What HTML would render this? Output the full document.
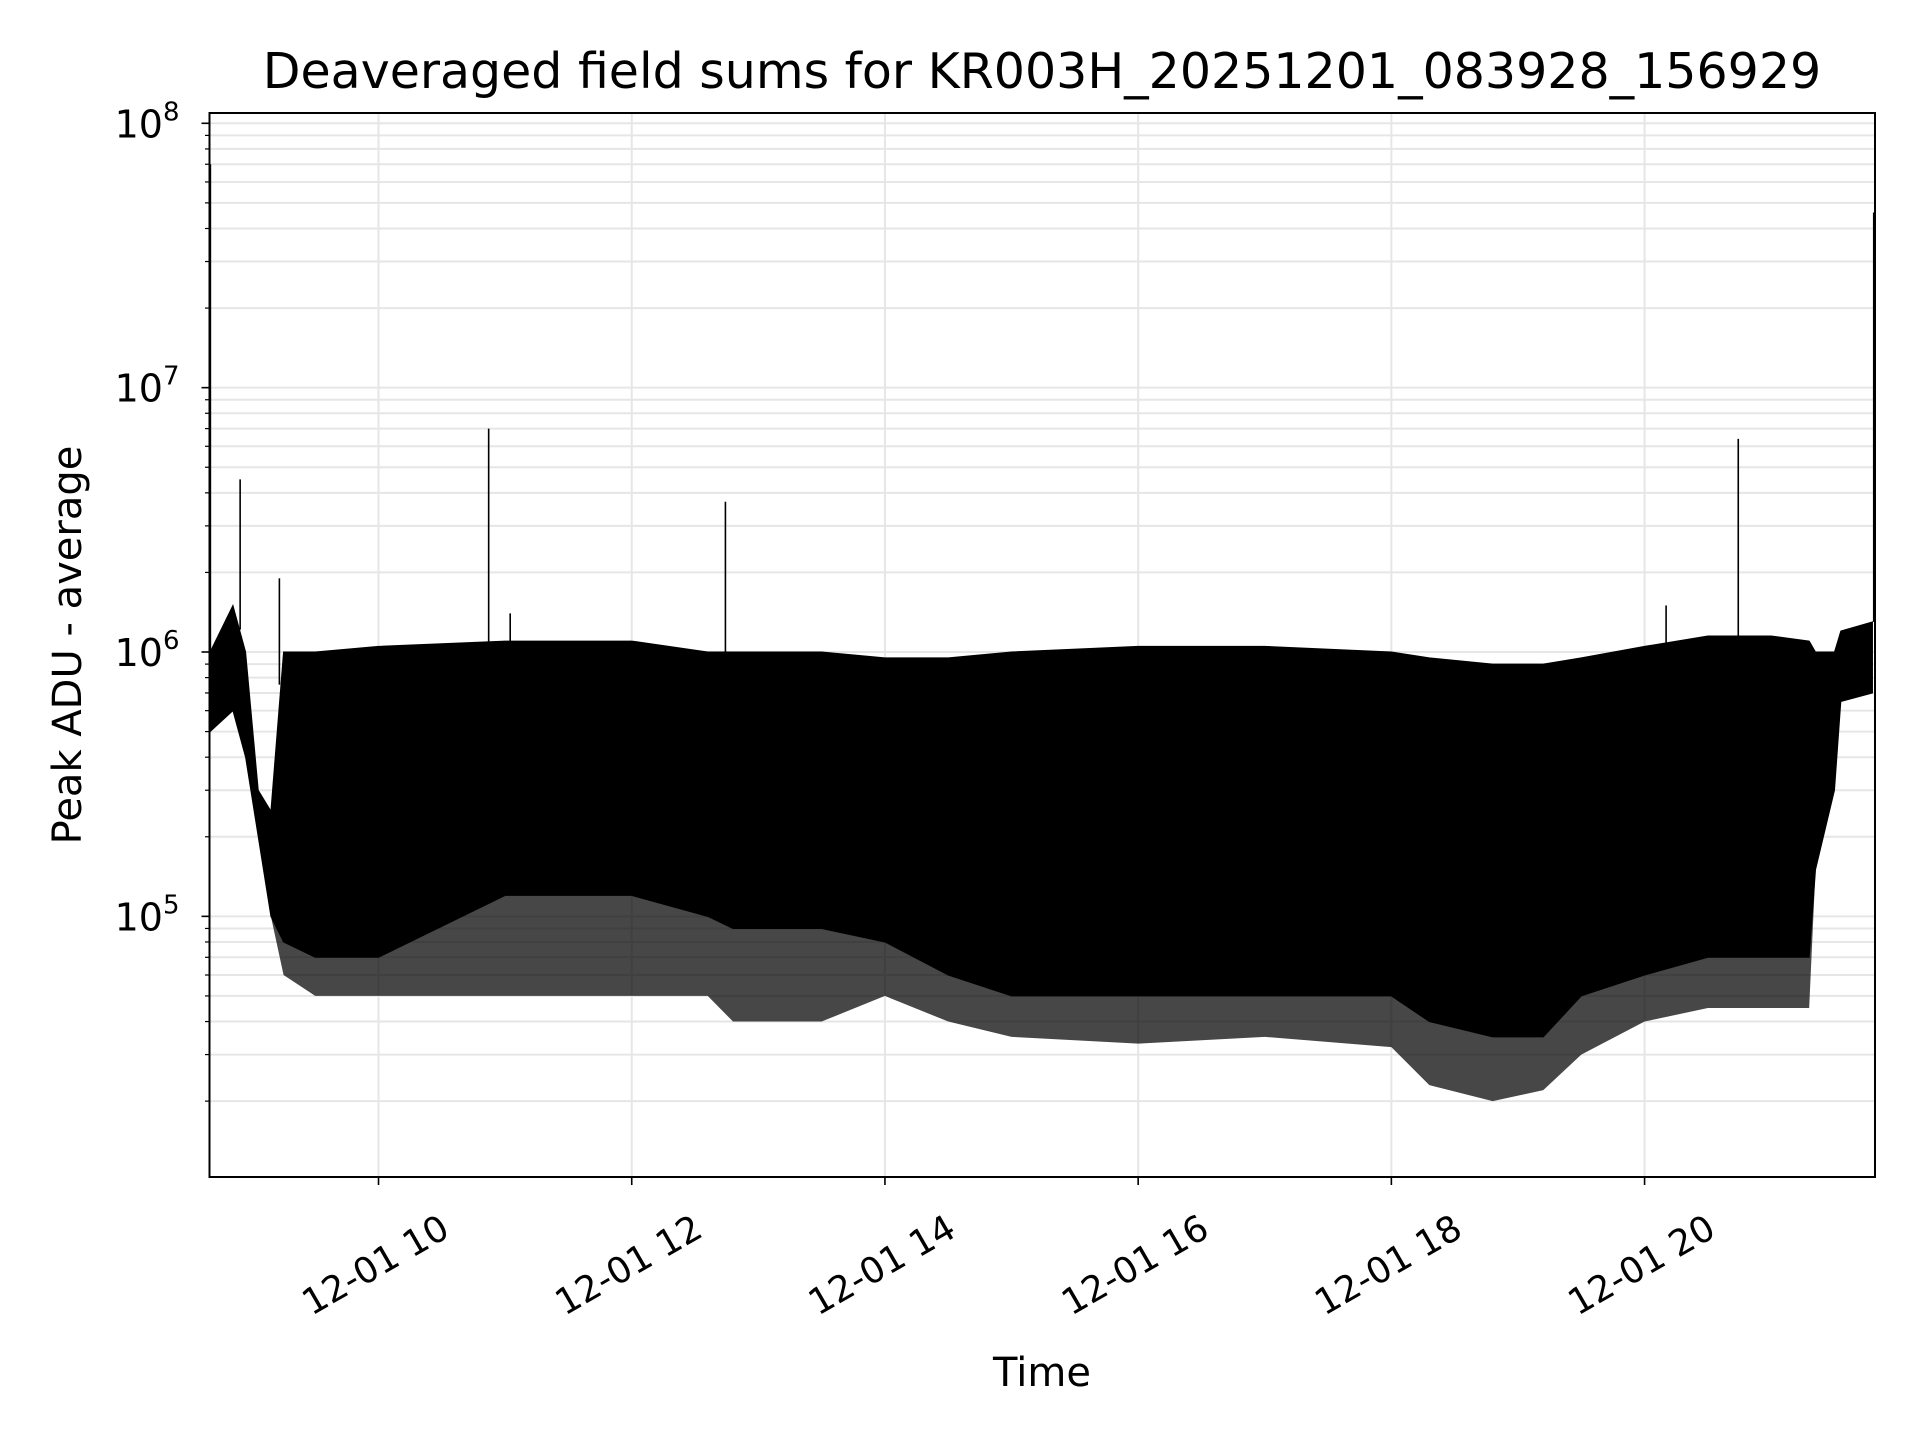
<!DOCTYPE html>
<html><head><meta charset="utf-8"><style>
html,body{margin:0;padding:0;background:#fff}
svg{display:block;font-family:"DejaVu Sans","Liberation Sans",sans-serif}
</style></head><body>
<svg id="chart" width="1920" height="1440" viewBox="0 0 1920 1440" xmlns="http://www.w3.org/2000/svg">
<rect width="1920" height="1440" fill="#fff"/>
<text x="1042" y="88" font-size="49" text-anchor="middle" fill="#000">Deaveraged field sums for KR003H_20251201_083928_156929</text>
<g id="grid"></g>
<g id="series"></g>
<g id="axes"></g>
<text transform="translate(81,645) rotate(-90)" font-size="40" text-anchor="middle" fill="#000">Peak ADU - average</text>
<text x="1042" y="1386" font-size="40" text-anchor="middle" fill="#000">Time</text>
</svg>
<script>
const hourTicks=[10,12,14,16,18,20];
const hourLabels=["12-01 10","12-01 12","12-01 14","12-01 16","12-01 18","12-01 20"];
const decadeTicks=[5,6,7,8];
const envTimes=[8.67,8.85,8.95,9.05,9.15,9.25,9.5,10.0,11.0,12.0,12.6,12.8,13.5,14.0,14.5,15.0,16.0,17.0,18.0,18.3,18.8,19.2,19.5,20.0,20.5,21.0,21.3,21.35,21.5,21.55,21.8];
const envHigh=[1.0e6,1.5e6,1.0e6,3e5,2.5e5,1.0e6,1.0e6,1.05e6,1.1e6,1.1e6,1.0e6,1.0e6,1.0e6,9.5e5,9.5e5,1.0e6,1.05e6,1.05e6,1.0e6,9.5e5,9.0e5,9.0e5,9.5e5,1.05e6,1.15e6,1.15e6,1.1e6,1.0e6,1.0e6,1.2e6,1.3e6];
const envCore=[5e5,6e5,4e5,2e5,1e5,8e4,7e4,7e4,1.2e5,1.2e5,1e5,9e4,9e4,8e4,6e4,5e4,5e4,5e4,5e4,4e4,3.5e4,3.5e4,5e4,6e4,7e4,7e4,7e4,1.5e5,3e5,6.5e5,7e5];
const envLow=[5e5,6e5,4e5,2e5,1e5,6e4,5e4,5e4,5e4,5e4,5e4,4e4,4e4,5e4,4e4,3.5e4,3.3e4,3.5e4,3.2e4,2.3e4,2.0e4,2.2e4,3e4,4e4,4.5e4,4.5e4,4.5e4,1.5e5,3e5,6.5e5,7e5];
const spikeTimes=[8.672,8.907,9.217,10.87,11.04,12.74,20.17,20.74,21.81];
const spikeVals=[7e7,4.5e6,1.9e6,7e6,1.4e6,3.7e6,1.5e6,6.4e6,4.6e7];

const L=209.5,R=1875,T=113,B=1177;
const x0h=8.665,x1h=21.82,yMinLog=4.014,yMaxLog=8.039;
const X=h=>L+(h-x0h)/(x1h-x0h)*(R-L);
const Y=v=>B-(Math.log10(v)-yMinLog)/(yMaxLog-yMinLog)*(B-T);
const NS="http://www.w3.org/2000/svg";
function mk(tag,attrs,parent){const e=document.createElementNS(NS,tag);for(const k in attrs)e.setAttribute(k,attrs[k]);parent.appendChild(e);return e;}
const grid=document.getElementById('grid'),axes=document.getElementById('axes'),series=document.getElementById('series');

for(let d=4;d<=8;d++){for(let m=1;m<=9;m++){const v=m*Math.pow(10,d);const lv=Math.log10(v);if(lv<yMinLog||lv>yMaxLog)continue;const y=Y(v);
 const g=mk('line',{x1:L,x2:R,y1:y,y2:y,stroke:'#e6e6e6','stroke-width':2},grid);
 
 
 const t=mk('line',{x1:L,x2:L-(m===1?8:4.5),y1:y,y2:y,stroke:'#000','stroke-width':m===1?1.6:1.2},axes);
 
 
}}
hourTicks.forEach((h,i)=>{const x=X(h);
 const g=mk('line',{x1:x,x2:x,y1:T,y2:B,stroke:'#e6e6e6','stroke-width':2},grid);
 
 
 const t=mk('line',{x1:x,x2:x,y1:B,y2:B+8,stroke:'#000','stroke-width':1.6},axes);
 
 
 const lb=mk('text',{transform:`translate(${x-2},${B+90}) rotate(-30)`,'font-size':36,'text-anchor':'middle','dominant-baseline':'middle',fill:'#000'},axes);
 lb.textContent=hourLabels[i];
 
 
});
decadeTicks.forEach(d=>{const y=Y(Math.pow(10,d));
 const lb=mk('text',{x:L-30,y:y+14,'font-size':38,'text-anchor':'end',fill:'#000'},axes);
 lb.innerHTML='10<tspan dy="-17" font-size="26">'+d+'</tspan>';
 
 
});
// lower sparse band
let p2=envTimes.map((t,i)=>X(t)+','+Y(envCore[i]));
for(let i=envTimes.length-1;i>=0;i--)p2.push(X(envTimes[i])+','+Y(envLow[i]));
const band=mk('polygon',{points:p2.join(' '),fill:'#000','fill-opacity':0.72,stroke:'none'},series);


// dense core
let pts=envTimes.map((t,i)=>X(t)+','+Y(envHigh[i]));
for(let i=envTimes.length-1;i>=0;i--)pts.push(X(envTimes[i])+','+Y(envCore[i]));
const poly=mk('polygon',{points:pts.join(' '),fill:'#000',stroke:'#000','stroke-width':1},series);


spikeTimes.forEach((t,i)=>{
 let j=0;while(j<envTimes.length-2&&envTimes[j+1]<t)j++;
 const f=Math.min(1,Math.max(0,(t-envTimes[j])/(envTimes[j+1]-envTimes[j])));
 const base=envHigh[j]+(envHigh[j+1]-envHigh[j])*f;
 const s=mk('line',{x1:X(t),x2:X(t),y1:Y(base),y2:Y(spikeVals[i]),stroke:'#000','stroke-width':1.6},series);
 
 
});
const fr=mk('rect',{x:L,y:T,width:R-L,height:B-T,fill:'none',stroke:'#000','stroke-width':2},axes);


</script>
</body></html>
